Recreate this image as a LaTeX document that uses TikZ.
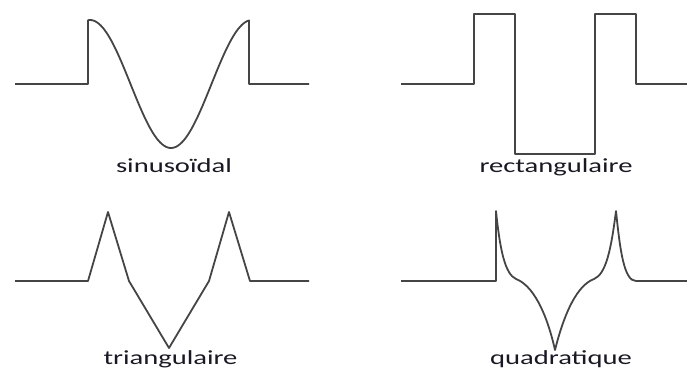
\documentclass[tikz,border=0pt]{standalone}
\usepackage{graphicx}
\usepackage{fontspec}
\setmainfont{Carlito}
\definecolor{labelcol}{rgb}{0.10,0.10,0.14}
\definecolor{wavecol}{rgb}{0.27,0.27,0.27}
\tikzset{
  wave/.style={draw=wavecol, line width=1.8pt, line join=round},
  lbl/.style={text=labelcol, font=\fontsize{20}{24}\selectfont, anchor=base, inner sep=0pt}
}
\newcommand{\wide}[1]{\scalebox{1.43}[1]{#1}}
\begin{document}
\begin{tikzpicture}[x=1pt,y=-1pt]
\useasboundingbox (0,0) rectangle (687,370);
% sinusoidal
\draw[wave] (15,84) -- (88,84) -- plot[domain=88:249,samples=90] (\x,{84-64*cos((\x-90)/162*360)}) -- (249,84) -- (309,84);
\node[lbl] (sin) at (174,172.5) {\wide{sinusoïdal}};
% rectangular
\draw[wave] (401,84) -- (474,84) -- (474,14) -- (515,14) -- (515,154) -- (595,154) -- (595,14) -- (636,14) -- (636,84) -- (687,84);
\node[lbl] (rect) at (556,172.5) {\wide{rectangulaire}};
% triangular
\draw[wave] (15,281) -- (88,281) -- (108,212) -- (129,281) -- (169,348) -- (209,281) -- (229,212) -- (250,281) -- (309,281);
\node[lbl] (tri) at (170.5,364.5) {\wide{triangulaire}};
% quadratic
\draw[wave] (401,281) -- (496,281) -- (496,211)
  .. controls (500,250) and (505,274) .. (516,279)
  .. controls (532,285) and (546,310) .. (555,350)
  .. controls (565,310) and (578,285) .. (594,279)
  .. controls (606,274) and (611,250) .. (616,211)
  .. controls (620,250) and (624,281) .. (636,281) -- (687,281);
\node[lbl] (quad) at (561,364.5) {\wide{quadratique}};
\end{tikzpicture}
\end{document}
